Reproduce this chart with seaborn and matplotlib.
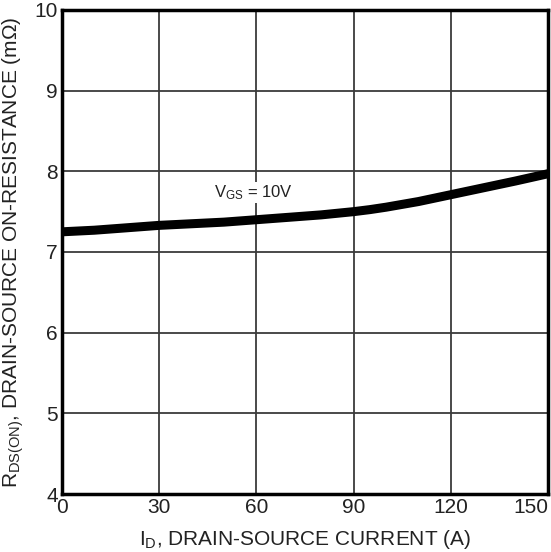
import matplotlib
matplotlib.use("Agg")
import matplotlib.pyplot as plt
import pandas as pd
import seaborn as sns

# Drain current (A) and on-resistance (mOhm)
current_a = [0, 10, 20, 30, 40, 50, 60, 70, 80, 90, 95, 100, 110, 120, 130, 140, 150]
rds_on = [7.25, 7.27, 7.30, 7.33, 7.35, 7.37, 7.40, 7.43, 7.46, 7.50, 7.525,
          7.555, 7.625, 7.71, 7.795, 7.88, 7.97]

x_ticks = [0, 30, 60, 90, 120, 150]
y_ticks = [4, 5, 6, 7, 8, 9, 10]


def main() -> None:
    sns.set_style("white")
    plt.rcParams["font.family"] = ["Liberation Sans", "DejaVu Sans"]
    plt.rcParams["mathtext.fontset"] = "custom"
    plt.rcParams["mathtext.rm"] = "Liberation Sans"
    plt.rcParams["mathtext.it"] = "Liberation Sans"

    df = pd.DataFrame({"current": current_a, "rds": rds_on})

    fig = plt.figure(figsize=(5.51, 5.52), dpi=100)
    ax = fig.add_axes([0.1125, 0.105, 0.882, 0.877])

    sns.lineplot(data=df, x="current", y="rds", ax=ax, color="black",
                 linewidth=6.5, solid_capstyle="butt", solid_joinstyle="round",
                 zorder=3)

    ax.set_xlim(0, 150)
    ax.set_ylim(4, 10)
    ax.set_xticks(x_ticks)
    ax.set_yticks(y_ticks)
    ax.grid(True, color="#3a3a3a", linewidth=1.3)
    ax.tick_params(axis="both", length=0, labelsize=15, pad=3, colors="#222222")
    # last x label sits flush with the right edge, as in the datasheet
    ax.get_xticklabels()[-1].set_horizontalalignment("right")
    for spine in ax.spines.values():
        spine.set_visible(True)
        spine.set_color("black")
        spine.set_linewidth(2.5)

    ax.set_xlabel(r"$\mathregular{I_D}$, DRAIN-SOURCE CURRENT (A)",
                  fontsize=15, color="#222222", labelpad=8)
    ax.set_ylabel(r"$\mathregular{R_{DS(ON)}}$, DRAIN-SOURCE ON-RESISTANCE (m$\Omega$)",
                  fontsize=15, color="#222222", labelpad=6)

    ax.text(47, 7.74, r"$\mathregular{V_{GS}}$ = 10V", fontsize=12,
            color="#222222", ha="left", va="center", zorder=4,
            bbox=dict(facecolor="white", edgecolor="none", pad=1))

    fig.savefig("out.png", dpi=100)
    plt.close(fig)


if __name__ == "__main__":
    main()
